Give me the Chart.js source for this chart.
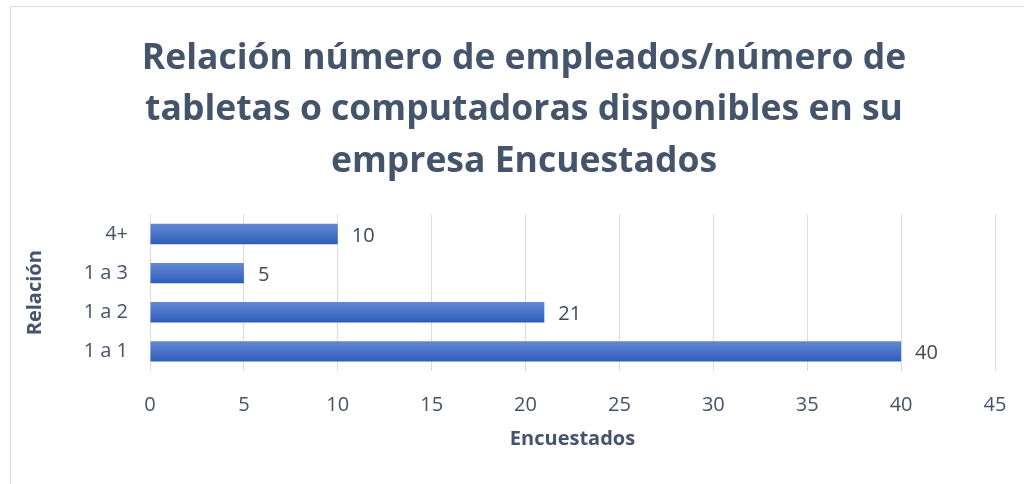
<!DOCTYPE html>
<html>
<head>
<meta charset="utf-8">
<script src="https://cdn.jsdelivr.net/npm/chart.js@4"></script>
<style>
  html, body { margin: 0; padding: 0; background: #fff; overflow: hidden; }
  #frame { position: absolute; left: 10px; top: 6px; width: 1100px; height: 600px;
           border-left: 1px solid #d9dee6; border-top: 1px solid #d9dee6; }
  #wrap { position: absolute; left: 0; top: 0; width: 1024px; height: 484px; }
</style>
</head>
<body>
<div id="frame"></div>
<div id="wrap"><canvas id="chart"></canvas></div>
<script>
const titleLines = ['Relación número de empleados/número de', 'tabletas o computadoras disponibles en su', 'empresa Encuestados'];
const categories = ['4+', '1 a 3', '1 a 2', '1 a 1'];
const encuestados = [10, 5, 21, 40];
const xMin = 0;
const xMax = 45;
const xStep = 5;

const slate = '#44546A';
const fontFamily = '"Open Sans", sans-serif';

// bar gradient, light on top to darker at the bottom of each bar
function barFill(ctx) {
  const chart = ctx.chart;
  const el = chart.getDatasetMeta(0).data[ctx.dataIndex];
  if (!el || !el.height) return '#4472C4';
  const top = el.y - el.height / 2;
  const g = chart.ctx.createLinearGradient(0, top, 0, top + el.height);
  g.addColorStop(0, '#6288d2');
  g.addColorStop(0.5, '#4a74c8');
  g.addColorStop(1, '#2d5cb8');
  return g;
}

// value labels to the right of each bar
const valueLabels = {
  id: 'valueLabels',
  afterDatasetsDraw(chart) {
    const { ctx } = chart;
    const meta = chart.getDatasetMeta(0);
    ctx.save();
    ctx.font = '20px ' + fontFamily;
    ctx.fillStyle = '#404a57';
    ctx.textAlign = 'left';
    ctx.textBaseline = 'middle';
    meta.data.forEach((bar, i) => {
      ctx.fillText(String(encuestados[i]), bar.x + 14, bar.y + 2);
    });
    ctx.restore();
  }
};

const chart = new Chart(document.getElementById('chart'), {
  type: 'bar',
  data: {
    labels: categories,
    datasets: [{
      data: encuestados,
      backgroundColor: barFill,
      borderWidth: 0,
      categoryPercentage: 1,
      barPercentage: 0.52
    }]
  },
  plugins: [valueLabels],
  options: {
    indexAxis: 'y',
    responsive: true,
    maintainAspectRatio: false,
    animation: false,
    layout: { padding: { left: 53, right: 29, top: 0, bottom: 0 } },
    plugins: {
      legend: { display: false },
      tooltip: { enabled: false },
      title: {
        display: true,
        text: titleLines,
        color: slate,
        font: { family: fontFamily, size: 35.5, weight: 'bold', lineHeight: 1.45 },
        padding: { top: 33, bottom: 27 }
      }
    },
    scales: {
      x: {
        min: xMin,
        max: xMax,
        afterFit: (s) => { s.height = 113; s.paddingRight = 0; },
        ticks: {
          stepSize: xStep,
          color: slate,
          padding: 22,
          font: { family: fontFamily, size: 20 }
        },
        grid: { color: '#d9dde3', lineWidth: 1, drawTicks: false },
        border: { display: false },
        title: {
          display: true,
          text: 'Encuestados',
          color: slate,
          font: { family: fontFamily, size: 20, weight: 'bold' },
          padding: { top: 0, bottom: 33 }
        }
      },
      y: {
        afterFit: (s) => { s.width = 97; },
        ticks: {
          color: slate,
          padding: 22,
          font: { family: fontFamily, size: 20 }
        },
        grid: { display: false, drawTicks: false },
        border: { display: false },
        title: {
          display: true,
          text: 'Relación',
          color: slate,
          font: { family: fontFamily, size: 20, weight: 'bold' },
          padding: { top: -30, bottom: 0 }
        }
      }
    }
  }
});
chart.update();
</script>
</body>
</html>
